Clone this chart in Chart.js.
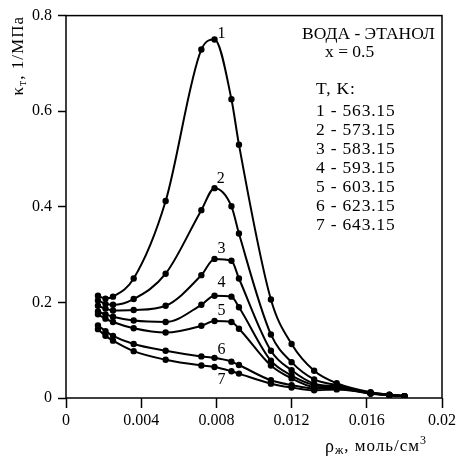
<!DOCTYPE html>
<html>
<head>
<meta charset="utf-8">
<script src="https://cdn.jsdelivr.net/npm/chart.js@4.4.0/dist/chart.umd.min.js"></script>
<style>
html, body { margin: 0; padding: 0; background: #fff; }
</style>
</head>
<body>
<canvas id="chart" width="461" height="464"></canvas>
<script>
// density of liquid, mol/cm3
const density = [0.0017, 0.0021, 0.0025, 0.0036, 0.0053, 0.0072, 0.0079, 0.0088, 0.0092, 0.0109, 0.0120, 0.0132, 0.0144, 0.0162, 0.0172, 0.0180];
// isothermal compressibility, 1/MPa, one array per isotherm
const k1 = [0.214, 0.208, 0.212, 0.250, 0.412, 0.729, 0.750, 0.625, 0.530, 0.206, 0.113, 0.057, 0.031, 0.012, 0.007, 0.004];
const k2 = [0.204, 0.197, 0.195, 0.207, 0.260, 0.393, 0.439, 0.401, 0.344, 0.133, 0.075, 0.039, 0.027, 0.011, 0.006, 0.004];
const k3 = [0.193, 0.187, 0.183, 0.184, 0.193, 0.257, 0.291, 0.287, 0.250, 0.099, 0.058, 0.030, 0.024, 0.010, 0.006, 0.004];
const k4 = [0.181, 0.175, 0.170, 0.162, 0.159, 0.195, 0.214, 0.212, 0.190, 0.078, 0.047, 0.027, 0.022, 0.010, 0.006, 0.004];
const k5 = [0.175, 0.166, 0.159, 0.146, 0.137, 0.151, 0.161, 0.159, 0.145, 0.068, 0.041, 0.023, 0.021, 0.009, 0.006, 0.004];
const k6 = [0.152, 0.140, 0.130, 0.113, 0.099, 0.087, 0.084, 0.076, 0.069, 0.037, 0.027, 0.020, 0.020, 0.011, 0.007, 0.004];
const k7 = [0.144, 0.130, 0.120, 0.098, 0.080, 0.068, 0.065, 0.056, 0.051, 0.030, 0.022, 0.016, 0.018, 0.010, 0.006, 0.004];
const series = [k1, k2, k3, k4, k5, k6, k7];
const curveNames = ['1', '2', '3', '4', '5', '6', '7'];
const temperatures = ['563.15', '573.15', '583.15', '593.15', '603.15', '623.15', '643.15'];
// where the curve numbers sit, in data units
const nameX = [0.00827, 0.00823, 0.00827, 0.00827, 0.00827, 0.00827, 0.00827];
const nameY = [0.761, 0.458, 0.312, 0.240, 0.183, 0.100, 0.039];
const xTicks = [0, 0.004, 0.008, 0.012, 0.016, 0.02];
const yTicks = [0, 0.2, 0.4, 0.6, 0.8];

const serif = '"Liberation Serif", "Times New Roman", serif';

const datasets = series.map((vals, i) => ({
	label: curveNames[i],
	data: vals.map((v, j) => ({x: density[j], y: v})),
	borderColor: '#000',
	backgroundColor: '#000',
	borderWidth: 2,
	pointRadius: 2.2,
	pointHoverRadius: 2.2,
	cubicInterpolationMode: 'monotone',
	fill: false
}));

const extras = {
	id: 'extras',
	afterDraw(chart) {
		const ctx = chart.ctx;
		const a = chart.chartArea;
		const sx = chart.scales.x, sy = chart.scales.y;
		ctx.save();
		// frame
		ctx.strokeStyle = '#000';
		ctx.lineWidth = 1.5;
		ctx.strokeRect(a.left, a.top, a.right - a.left, a.bottom - a.top);
		ctx.fillStyle = '#000';
		// curve numbers
		ctx.font = '16px ' + serif;
		ctx.textAlign = 'center';
		ctx.textBaseline = 'middle';
		curveNames.forEach((n, i) => {
			ctx.fillText(n, sx.getPixelForValue(nameX[i]), sy.getPixelForValue(nameY[i]));
		});
		// system text
		ctx.font = '17.5px ' + serif;
		ctx.textAlign = 'left';
		ctx.textBaseline = 'middle';
		ctx.fillText('ВОДА - ЭТАНОЛ', 302, 34);
		ctx.fillText('x = 0.5', 325, 52);
		ctx.letterSpacing = '0.8px';
		ctx.fillText('T, K:', 316, 89);
		temperatures.forEach((t, i) => {
			ctx.fillText(curveNames[i] + ' - ' + t, 316, 111 + i * 19);
		});
		ctx.letterSpacing = '1px';
		// y axis title
		ctx.save();
		ctx.translate(19, 16);
		ctx.rotate(-Math.PI / 2);
		ctx.textAlign = 'right';
		ctx.textBaseline = 'middle';
		ctx.font = '17px ' + serif;
		const yt2 = ', 1/МПа';
		const w2 = ctx.measureText(yt2).width;
		ctx.fillText(yt2, 0, 0);
		ctx.font = '12px ' + serif;
		const ws = ctx.measureText('т').width;
		ctx.fillText('т', -w2, 4);
		ctx.font = '17px ' + serif;
		ctx.fillText('κ', -w2 - ws, 0);
		ctx.restore();
		// x axis title
		ctx.textAlign = 'left';
		ctx.textBaseline = 'middle';
		let px = 325;
		ctx.font = '18px ' + serif;
		ctx.fillText('ρ', px, 447);
		px += ctx.measureText('ρ').width;
		ctx.font = '12px ' + serif;
		ctx.fillText('ж', px, 451);
		px += ctx.measureText('ж').width;
		ctx.font = '17px ' + serif;
		ctx.fillText(', моль/см', px, 447);
		px += ctx.measureText(', моль/см').width;
		ctx.font = '12px ' + serif;
		ctx.fillText('3', px, 441);
		ctx.restore();
	}
};

const fmt = v => v === 0 ? '0' : String(parseFloat(v.toFixed(3)));

new Chart(document.getElementById('chart'), {
	type: 'line',
	data: {datasets: datasets},
	options: {
		responsive: false,
		animation: false,
		layout: {padding: {top: 10, right: 19, left: 0, bottom: 0}},
		plugins: {legend: {display: false}, tooltip: {enabled: false}},
		scales: {
			x: {
				type: 'linear',
				min: 0,
				max: 0.02,
				afterBuildTicks: s => { s.ticks = xTicks.map(v => ({value: v})); },
				afterFit: s => { s.height = 66; },
				border: {display: false},
				grid: {drawOnChartArea: false, tickLength: 10, tickWidth: 1.5, tickColor: '#000'},
				ticks: {color: '#000', font: {family: serif, size: 16}, padding: 3, maxRotation: 0, callback: fmt}
			},
			y: {
				min: 0,
				max: 0.8,
				afterBuildTicks: s => { s.ticks = yTicks.map(v => ({value: v})); },
				afterFit: s => { s.width = 66; },
				border: {display: false},
				grid: {drawOnChartArea: false, tickLength: 8, tickWidth: 1.5, tickColor: '#000'},
				ticks: {color: '#000', font: {family: serif, size: 16}, padding: 6, callback: fmt}
			}
		}
	},
	plugins: [extras]
});
</script>
</body>
</html>
